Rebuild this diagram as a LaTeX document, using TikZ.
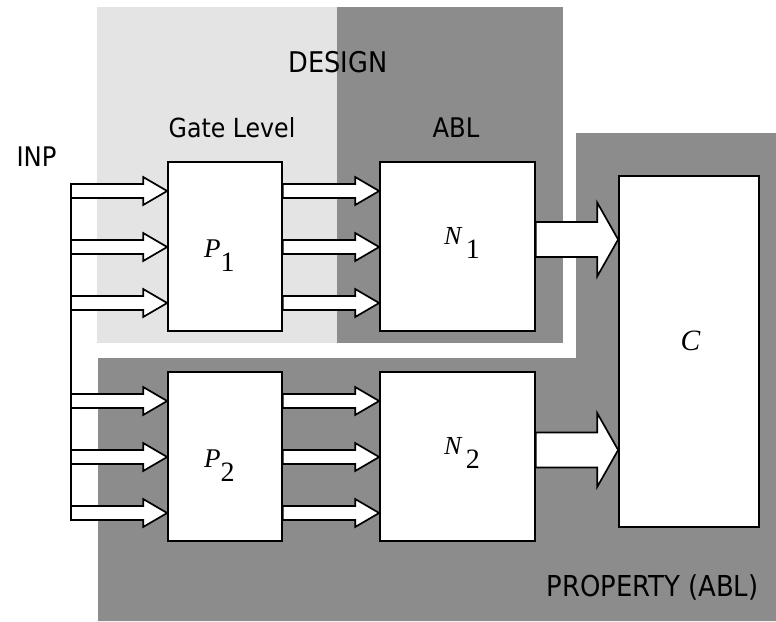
\documentclass[tikz,border=0pt]{standalone}
\usepackage{fontspec}
\setmainfont{DejaVu Sans Condensed}
\newfontfamily\labelserif{Liberation Serif}
\usetikzlibrary{calc}
\definecolor{lightbg}{gray}{0.894}
\definecolor{darkbg}{gray}{0.549}
\tikzset{
  box/.style={draw=black, line width=1.7pt, fill=white, inner sep=0pt},
  arrowline/.style={draw=black, line width=1.7pt, fill=white, line join=miter},
  trunkline/.style={draw=black, line width=1.7pt},
  lbl/.style={font=\fontsize{27}{27}\selectfont, inner sep=0pt, anchor=base},
  mlbl/.style={font=\fontsize{26}{26}\selectfont\labelserif, inner sep=0pt, anchor=base west},
}
\newcommand\blockarrow[5]{%
  \draw[arrowline] ($(#1)+(0,#3)$) -- ($(#2)+(-#5,#3)$) -- ($(#2)+(-#5,#4)$) -- (#2)
    -- ($(#2)+(-#5,-#4)$) -- ($(#2)+(-#5,-#3)$) -- ($(#1)+(0,-#3)$) -- cycle;}
\newcommand\subdigit[1]{\raisebox{-14pt}{\fontsize{28}{28}\selectfont #1}}
\begin{document}
\begin{tikzpicture}[x=1pt,y=1pt]
\useasboundingbox (0,0) rectangle (776,-621);
% backgrounds
\fill[lightbg] (97,-7) rectangle (337,-343);
\fill[darkbg] (337,-7) rectangle (563,-343);
\fill[darkbg] (576,-133) -- (776,-133) -- (776,-621) -- (98,-621) -- (98,-358) -- (576,-358) -- cycle;
% boxes
\node[box, minimum width=114pt, minimum height=169pt] (P1) at (225,-246.5) {};
\node[box, minimum width=155pt, minimum height=169pt] (N1) at (457.5,-246.5) {};
\node[box, minimum width=114pt, minimum height=169pt] (P2) at (225,-456.5) {};
\node[box, minimum width=155pt, minimum height=169pt] (N2) at (457.5,-456.5) {};
\node[box, minimum width=140pt, minimum height=351pt] (C) at (689,-351.5) {};
% input trunk
\coordinate (ttop) at (71,-183);
\coordinate (tbot) at (71,-520);
\draw[trunkline] (ttop) -- (tbot);
% small arrows
\foreach \y in {191,247,303}{
  \coordinate (yy) at (0,-\y);
  \coordinate (a) at (ttop |- yy);
  \coordinate (b) at (P1.west |- yy);
  \coordinate (c) at (P1.east |- yy);
  \coordinate (d) at (N1.west |- yy);
  \blockarrow{a}{b}{7}{14}{24}
  \blockarrow{c}{d}{7}{14}{24}
}
\foreach \y in {401,457,513}{
  \coordinate (yy) at (0,-\y);
  \coordinate (a) at (ttop |- yy);
  \coordinate (b) at (P2.west |- yy);
  \coordinate (c) at (P2.east |- yy);
  \coordinate (d) at (N2.west |- yy);
  \blockarrow{a}{b}{7}{14}{24}
  \blockarrow{c}{d}{7}{14}{24}
}
% big arrows
\coordinate (y1) at (0,-239.5);
\coordinate (n1o) at (N1.east |- y1);
\coordinate (c1i) at (C.west |- y1);
\blockarrow{n1o}{c1i}{17.5}{37}{21}
\coordinate (y2) at (0,-450);
\coordinate (n2o) at (N2.east |- y2);
\coordinate (c2i) at (C.west |- y2);
\blockarrow{n2o}{c2i}{17.5}{37}{21}
% texts
\node[lbl, font=\fontsize{28.5}{28.5}\selectfont] (design) at (338,-72) {DESIGN};
\node[lbl, font=\fontsize{26.3}{26.3}\selectfont] (gate) at (232,-137) {Gate Level};
\node[lbl] (abl) at (456,-137) {ABL};
\node[lbl] (inp) at (36.5,-166) {INP};
\node[lbl, font=\fontsize{28.8}{28.8}\selectfont] (prop) at (652.5,-596) {PROPERTY (ABL)};
% box labels
\node[mlbl, font=\fontsize{27}{27}\selectfont\labelserif] (P1l) at (204,-257) {\textit{P}\subdigit{1}};
\node[mlbl] (N1l) at (444,-244) {\textit{N}\kern3pt\subdigit{1}};
\node[mlbl, font=\fontsize{27}{27}\selectfont\labelserif] (P2l) at (204,-467) {\textit{P}\subdigit{2}};
\node[mlbl] (N2l) at (444,-454) {\textit{N}\kern3pt\subdigit{2}};
\node[mlbl, font=\fontsize{29.5}{29.5}\selectfont\labelserif] (Cl) at (680.5,-350) {\textit{C}};
\end{tikzpicture}
\end{document}
